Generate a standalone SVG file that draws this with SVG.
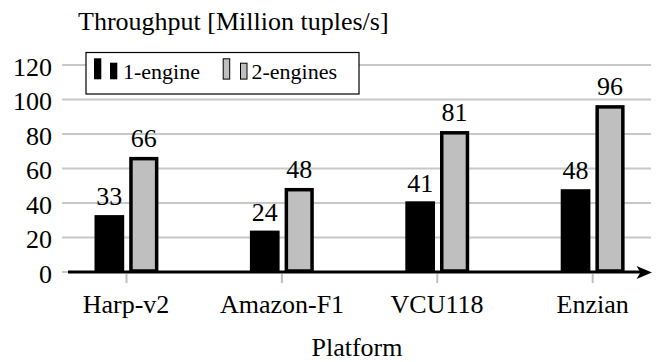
<svg xmlns="http://www.w3.org/2000/svg" width="657" height="362" viewBox="0 0 657 362">
<style>
.grid{stroke:#c8c8c8;stroke-width:2;fill:none}
.tick{stroke:#c0c0c0;stroke-width:2;fill:none}
.b1{fill:#000}
.b2{fill:#bfbfbf;stroke:#000;stroke-width:3.5}
.yl{text-anchor:end}
.c{text-anchor:middle}
</style>
<rect width="657" height="362" fill="#fff"/>
<g id="grid">
<line class="grid" x1="62" y1="237.5" x2="651" y2="237.5"/>
<line class="grid" x1="62" y1="203" x2="651" y2="203"/>
<line class="grid" x1="62" y1="168.5" x2="651" y2="168.5"/>
<line class="grid" x1="62" y1="134" x2="651" y2="134"/>
<line class="grid" x1="62" y1="99.5" x2="651" y2="99.5"/>
<line class="grid" x1="62" y1="65" x2="651" y2="65"/>
<line class="grid" x1="62" y1="272" x2="70" y2="272"/>
</g>
<g id="ylabels">
<text class="yl" x="52" y="282.5" font-family="'Liberation Serif', serif" font-size="26">0</text>
<text class="yl" x="52" y="248" font-family="'Liberation Serif', serif" font-size="26">20</text>
<text class="yl" x="52" y="213.5" font-family="'Liberation Serif', serif" font-size="26">40</text>
<text class="yl" x="52" y="179" font-family="'Liberation Serif', serif" font-size="26">60</text>
<text class="yl" x="52" y="144.5" font-family="'Liberation Serif', serif" font-size="26">80</text>
<text class="yl" x="52" y="110" font-family="'Liberation Serif', serif" font-size="26">100</text>
<text class="yl" x="52" y="75.5" font-family="'Liberation Serif', serif" font-size="26">120</text>
</g>
<g id="harp">
<rect class="b1" x="94.5" y="215.1" width="29.7" height="56.9"/>
<rect class="b2" x="130.95" y="158.65" width="25.7" height="112.35"/>
<text class="c" x="109.35" y="205" font-family="'Liberation Serif', serif" font-size="26">33</text>
<text class="c" x="143.8" y="146.5" font-family="'Liberation Serif', serif" font-size="26">66</text>
</g>
<g id="amazon">
<rect class="b1" x="249.9" y="230.6" width="29.7" height="41.4"/>
<rect class="b2" x="286.35" y="189.7" width="25.7" height="81.3"/>
<text class="c" x="264.75" y="220.5" font-family="'Liberation Serif', serif" font-size="26">24</text>
<text class="c" x="299.2" y="178" font-family="'Liberation Serif', serif" font-size="26">48</text>
</g>
<g id="vcu">
<rect class="b1" x="405.3" y="201.3" width="29.7" height="70.7"/>
<rect class="b2" x="441.75" y="132.8" width="25.7" height="138.2"/>
<text class="c" x="420.15" y="191.5" font-family="'Liberation Serif', serif" font-size="26">41</text>
<text class="c" x="454.6" y="121" font-family="'Liberation Serif', serif" font-size="26">81</text>
</g>
<g id="enzian">
<rect class="b1" x="560.7" y="189.2" width="29.7" height="82.8"/>
<rect class="b2" x="597.15" y="106.9" width="25.7" height="164.1"/>
<text class="c" x="575.55" y="179" font-family="'Liberation Serif', serif" font-size="26">48</text>
<text class="c" x="610" y="95" font-family="'Liberation Serif', serif" font-size="26">96</text>
</g>
<g id="connectors">
<line x1="68" y1="272" x2="644" y2="272" stroke="#000" stroke-width="3"/>
<path d="M636.5,266 L652,272.5 L636.5,279 L640.5,272.5 Z" fill="#000"/>
<line class="tick" x1="126.5" y1="274" x2="126.5" y2="283"/>
<line class="tick" x1="281.9" y1="274" x2="281.9" y2="283"/>
<line class="tick" x1="437.3" y1="274" x2="437.3" y2="283"/>
<line class="tick" x1="592.7" y1="274" x2="592.7" y2="283"/>
</g>
<g id="xlabels">
<text class="c" x="126" y="312.5" font-family="'Liberation Serif', serif" font-size="26">Harp-v2</text>
<text class="c" x="282" y="312.5" font-family="'Liberation Serif', serif" font-size="26">Amazon-F1</text>
<text class="c" x="437" y="312.5" font-family="'Liberation Serif', serif" font-size="26">VCU118</text>
<text class="c" x="592.7" y="312.5" font-family="'Liberation Serif', serif" font-size="26">Enzian</text>
<text class="c" x="357" y="356" font-family="'Liberation Serif', serif" font-size="26">Platform</text>
</g>
<text id="title" x="78" y="30" font-family="'Liberation Serif', serif" font-size="26">Throughput [Million tuples/s]</text>
<g id="legend">
<rect x="86" y="52.5" width="273" height="41.5" fill="#fff" stroke="#000" stroke-width="1.2"/>
<rect x="94" y="58.3" width="7.3" height="21" fill="#000"/>
<rect x="110" y="62.7" width="7.3" height="16.6" fill="#000"/>
<text x="123" y="79.3" font-family="'Liberation Serif', serif" font-size="22">1-engine</text>
<rect x="223.2" y="58.8" width="6.5" height="20.3" fill="#bfbfbf" stroke="#000" stroke-width="1"/>
<rect x="240.5" y="63.2" width="6.5" height="15.9" fill="#bfbfbf" stroke="#000" stroke-width="1"/>
<text x="251.5" y="79.3" font-family="'Liberation Serif', serif" font-size="22">2-engines</text>
</g>
</svg>
